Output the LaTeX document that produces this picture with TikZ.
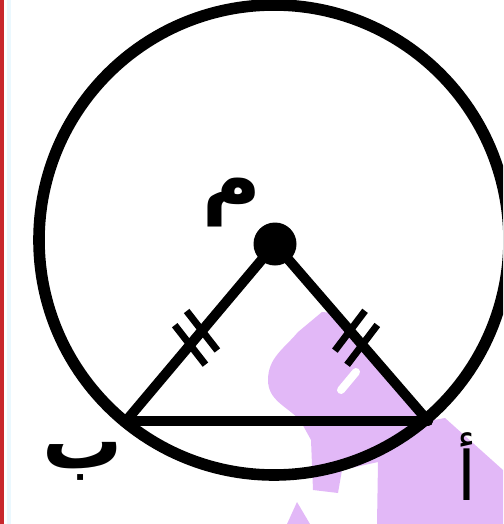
\documentclass[tikz,border=0pt]{standalone}
\usepackage{fontspec}
\usetikzlibrary{calc}
\newfontfamily\arabicfont[Script=Arabic]{DejaVu Sans}
\TeXXeTstate=1
\definecolor{wm}{RGB}{226,184,247}
\definecolor{redbar}{RGB}{200,40,45}
\begin{document}
\begin{tikzpicture}[x=0.5pt,y=-0.5pt,
  bold line/.style={line width=5.8pt},
  side/.style={line width=5pt, line cap=round, line join=round},
  tickmark/.style={line width=3.5pt},
  label/.style={font=\arabicfont\bfseries\fontsize{40}{40}\selectfont, inner sep=0pt},
  thin label/.style={font=\arabicfont\fontsize{34}{34}\selectfont, inner sep=0pt}]
\useasboundingbox (0,0) rectangle (503,524);
\clip (0,0) rectangle (503,524);
% watermark
\fill[wm] (322,312) -- (298,332) to[out=-130,in=90] (268,380) to[out=-90,in=135] (300,420)
  -- (311,440) -- (313,490) -- (338,493) -- (342,470) -- (378,462) -- (377,524)
  -- (503,524) -- (503,470) -- (445,418) -- (428,421) -- (334,313) -- cycle;
\fill[wm] (287,524) -- (297,502) -- (310,524) -- cycle;
\draw[white, line width=4pt, line cap=round] (341,390) -- (356,372);
% border
\fill[redbar] (0,0) rectangle (4,524);
\fill[cyan!8] (7,0) rectangle (11,524);
% figure
\coordinate (O) at (274,240);
\draw[bold line] (O) circle (117.5pt);
\node[circle, fill, inner sep=0pt, minimum size=21.5pt] (M) at (275,244) {};
\coordinate (B) at (126,421);
\coordinate (A) at (428,421);
\draw[side] (B) -- (A);
\draw[side] (B) -- (M.center) -- (A);
% ticks
\foreach \t in {0.49,0.57}{
  \coordinate (tb) at ($(M.center)!\t!(B)$);
  \draw[tickmark] ($(tb)!12.5pt!78:(B)$) -- ($(tb)!12.5pt!-102:(B)$);
  \coordinate (ta) at ($(M.center)!\t!(A)$);
  \draw[tickmark] ($(ta)!12.5pt!-78:(A)$) -- ($(ta)!12.5pt!102:(A)$);
}
% labels
\node[label] (lm) at (232,203) {\beginR م\endR};
\node[label] (lb) at (83,461) {\beginR ب\endR};
\node[thin label] (la) at (467,467) {\beginR أ\endR};
\end{tikzpicture}
\end{document}
